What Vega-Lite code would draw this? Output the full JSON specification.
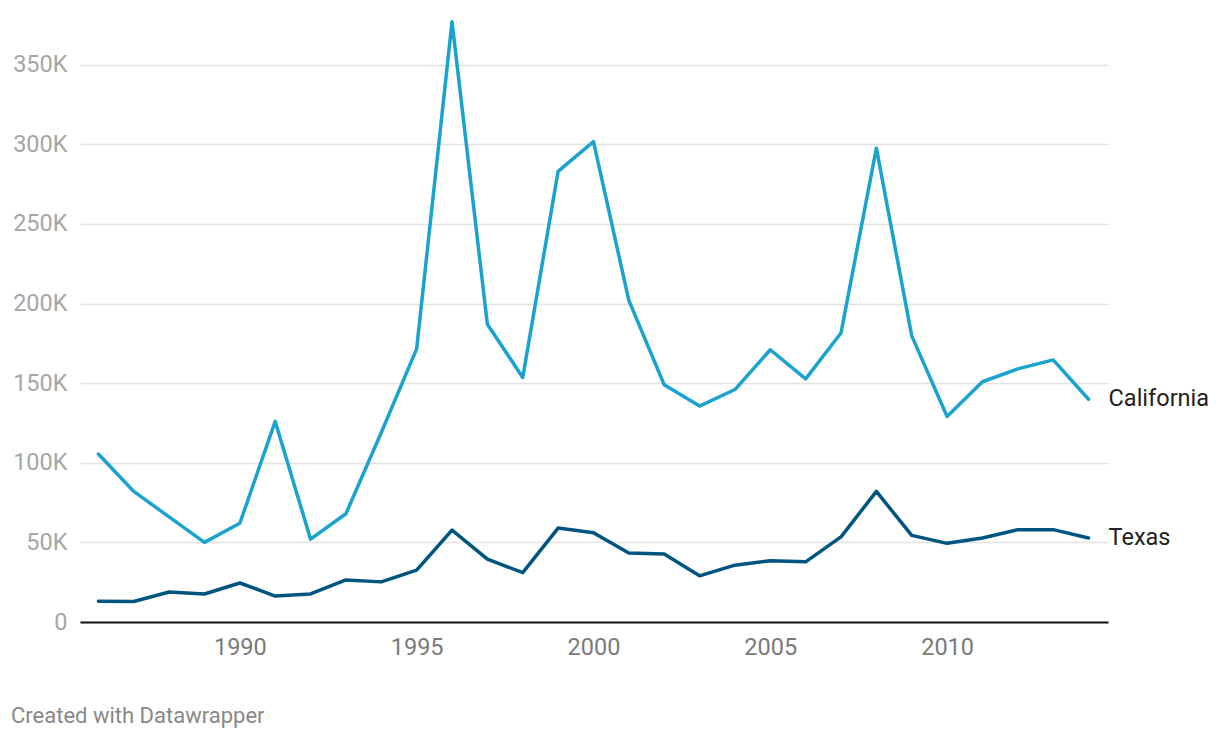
{
  "$schema": "https://vega.github.io/schema/vega-lite/v6.json",
  "autosize": {"type": "none"},
  "width": 1028,
  "height": 613,
  "padding": {"left": 80, "top": 9, "right": 112, "bottom": 116},
  "background": "white",
  "config": {
    "view": {"stroke": null},
    "font": "Roboto",
    "axis": {"labelFont": "Roboto"}
  },
  "title": {
    "text": "Created with Datawrapper",
    "orient": "bottom",
    "anchor": "start",
    "frame": "group",
    "dx": -69,
    "offset": 47,
    "font": "Roboto",
    "fontSize": 22,
    "fontWeight": "normal",
    "color": "#888888"
  },
  "data": {
    "values": [
      {"year": 1986, "state": "California", "value": 105500},
      {"year": 1987, "state": "California", "value": 82000},
      {"year": 1988, "state": "California", "value": 66000},
      {"year": 1989, "state": "California", "value": 50000},
      {"year": 1990, "state": "California", "value": 62000},
      {"year": 1991, "state": "California", "value": 126000},
      {"year": 1992, "state": "California", "value": 52000},
      {"year": 1993, "state": "California", "value": 68000},
      {"year": 1994, "state": "California", "value": 119000},
      {"year": 1995, "state": "California", "value": 171500},
      {"year": 1996, "state": "California", "value": 377000},
      {"year": 1997, "state": "California", "value": 187000},
      {"year": 1998, "state": "California", "value": 153600},
      {"year": 1999, "state": "California", "value": 283000},
      {"year": 2000, "state": "California", "value": 301700},
      {"year": 2001, "state": "California", "value": 202000},
      {"year": 2002, "state": "California", "value": 149000},
      {"year": 2003, "state": "California", "value": 135600},
      {"year": 2004, "state": "California", "value": 146000},
      {"year": 2005, "state": "California", "value": 171000},
      {"year": 2006, "state": "California", "value": 152700},
      {"year": 2007, "state": "California", "value": 181500},
      {"year": 2008, "state": "California", "value": 297600},
      {"year": 2009, "state": "California", "value": 179700},
      {"year": 2010, "state": "California", "value": 129100},
      {"year": 2011, "state": "California", "value": 150900},
      {"year": 2012, "state": "California", "value": 159000},
      {"year": 2013, "state": "California", "value": 164600},
      {"year": 2014, "state": "California", "value": 139900},
      {"year": 1986, "state": "Texas", "value": 13000},
      {"year": 1987, "state": "Texas", "value": 12900},
      {"year": 1988, "state": "Texas", "value": 18800},
      {"year": 1989, "state": "Texas", "value": 17600},
      {"year": 1990, "state": "Texas", "value": 24500},
      {"year": 1991, "state": "Texas", "value": 16300},
      {"year": 1992, "state": "Texas", "value": 17600},
      {"year": 1993, "state": "Texas", "value": 26400},
      {"year": 1994, "state": "Texas", "value": 25200},
      {"year": 1995, "state": "Texas", "value": 32600},
      {"year": 1996, "state": "Texas", "value": 57700},
      {"year": 1997, "state": "Texas", "value": 39500},
      {"year": 1998, "state": "Texas", "value": 31000},
      {"year": 1999, "state": "Texas", "value": 59000},
      {"year": 2000, "state": "Texas", "value": 56000},
      {"year": 2001, "state": "Texas", "value": 43300},
      {"year": 2002, "state": "Texas", "value": 42700},
      {"year": 2003, "state": "Texas", "value": 29000},
      {"year": 2004, "state": "Texas", "value": 35700},
      {"year": 2005, "state": "Texas", "value": 38500},
      {"year": 2006, "state": "Texas", "value": 37800},
      {"year": 2007, "state": "Texas", "value": 53500},
      {"year": 2008, "state": "Texas", "value": 82000},
      {"year": 2009, "state": "Texas", "value": 54400},
      {"year": 2010, "state": "Texas", "value": 49400},
      {"year": 2011, "state": "Texas", "value": 52800},
      {"year": 2012, "state": "Texas", "value": 58000},
      {"year": 2013, "state": "Texas", "value": 58000},
      {"year": 2014, "state": "Texas", "value": 52800}
    ]
  },
  "encoding": {
    "x": {
      "field": "year",
      "type": "quantitative",
      "scale": {"domain": [1985.48, 2014.55], "nice": false, "zero": false},
      "axis": {
        "title": null,
        "values": [1990, 1995, 2000, 2005, 2010],
        "format": "d",
        "grid": false,
        "ticks": false,
        "domain": true,
        "domainColor": "#111111",
        "domainWidth": 2,
        "labelColor": "#7a7a7a",
        "labelFontSize": 23.5,
        "labelPadding": 13
      }
    },
    "y": {
      "field": "value",
      "type": "quantitative",
      "scale": {"domain": [0, 385000], "nice": false},
      "axis": {
        "title": null,
        "values": [0, 50000, 100000, 150000, 200000, 250000, 300000, 350000],
        "labelExpr": "datum.value == 0 ? '0' : (datum.value / 1000) + 'K'",
        "grid": true,
        "gridColor": "#e3e3e3",
        "gridWidth": 1.5,
        "ticks": false,
        "domain": false,
        "labelColor": "#a6a6a6",
        "labelFontSize": 23.5,
        "labelPadding": 13
      }
    },
    "color": {
      "field": "state",
      "type": "nominal",
      "scale": {"domain": ["California", "Texas"], "range": ["#1aa3cf", "#005580"]},
      "legend": null
    }
  },
  "layer": [
    {
      "mark": {"type": "line", "strokeWidth": 3.5, "strokeJoin": "round", "strokeCap": "round"}
    },
    {
      "transform": [{"filter": "datum.year == 2014"}],
      "mark": {"type": "text", "align": "left", "baseline": "middle", "dx": 20, "dy": 0, "fontSize": 23.5, "font": "Roboto", "color": "#222222"},
      "encoding": {
        "text": {"field": "state"},
        "color": {"value": "#222222"}
      }
    }
  ]
}
